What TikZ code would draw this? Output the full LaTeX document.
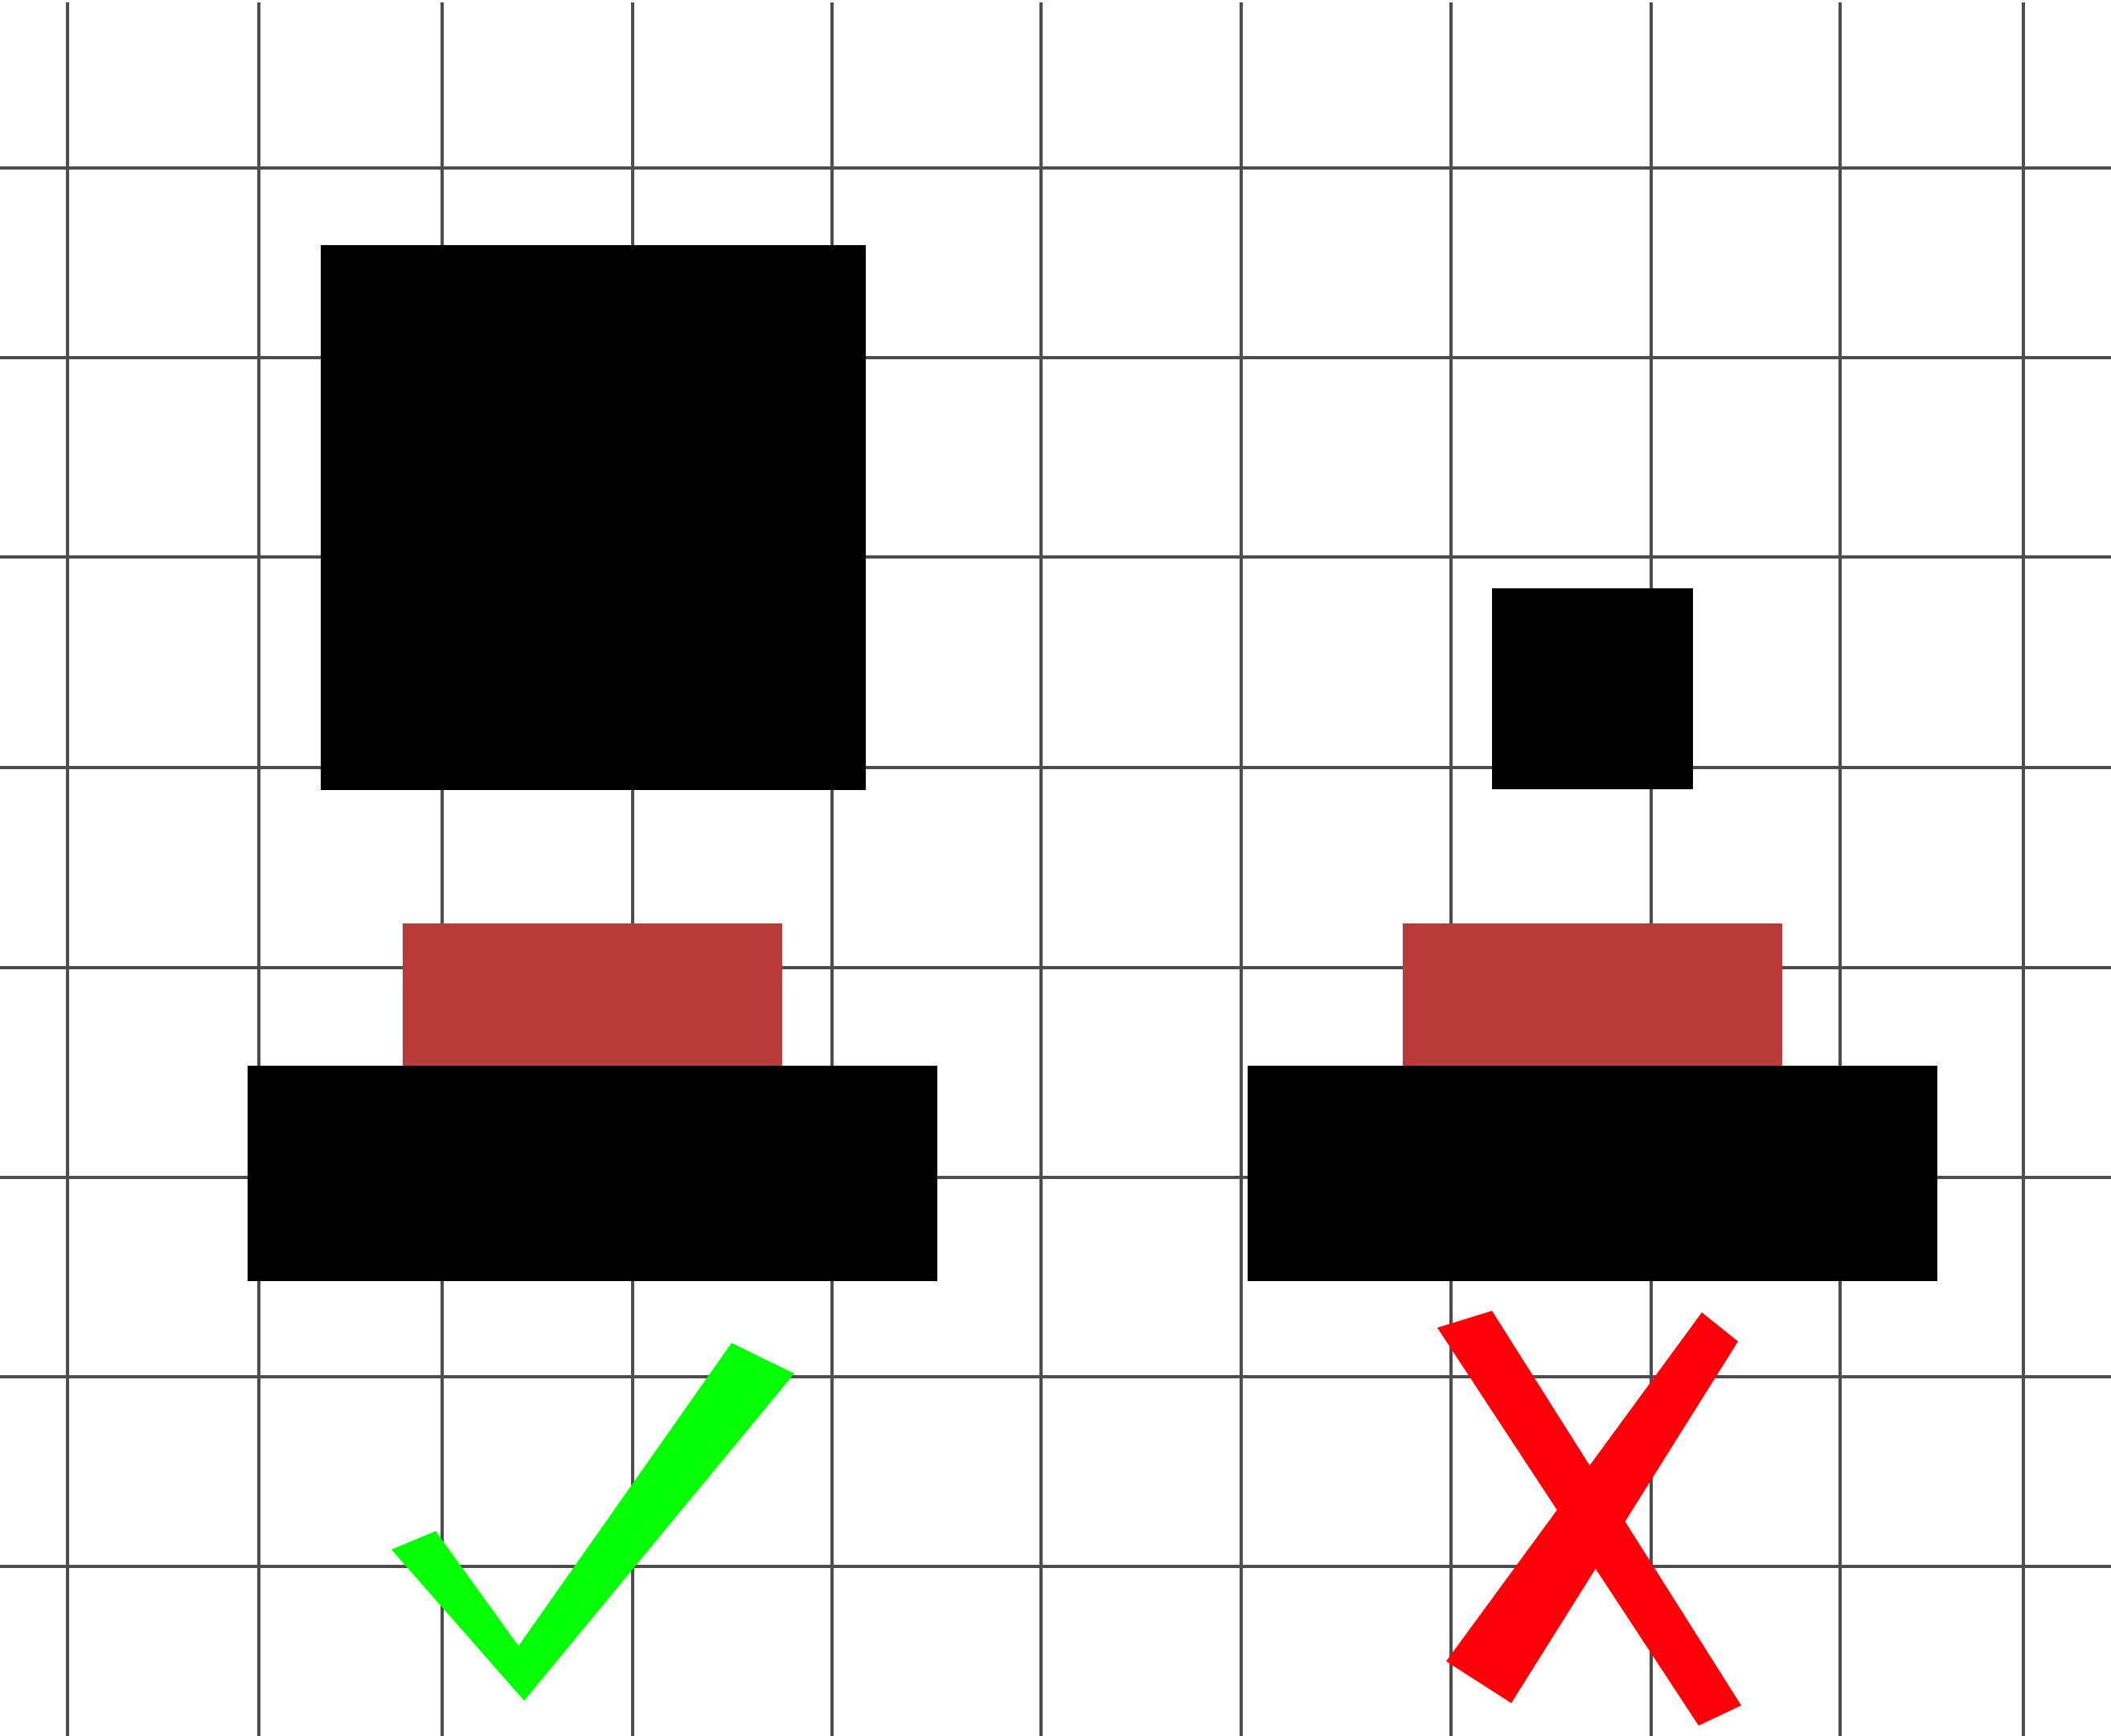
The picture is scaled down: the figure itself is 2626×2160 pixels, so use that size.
\documentclass[tikz,border=0pt]{standalone}
\definecolor{gridgray}{HTML}{4D4D4D}
\definecolor{padred}{HTML}{B93A3A}
\definecolor{okgreen}{HTML}{06FF06}
\definecolor{badred}{HTML}{FF0008}
\begin{document}
\begin{tikzpicture}
            [
                x = 0.01cm, y = -0.01cm,
                gridline/.style = {draw=gridgray, line width=1pt},
                block/.style    = {fill=black},
                pad/.style      = {fill=padred},
                goodmark/.style = {fill=okgreen},
                badmark/.style  = {fill=badred}
            ]
            \useasboundingbox (0,0) rectangle (2626,2160);
            % grid
            \foreach \gx in {84,322,550,787,1035,1295,1544,1805,2054,2289,2517}
                \draw [gridline] (\gx,3) -- (\gx,2160);
            \foreach \gy in {209,445,693,955,1204,1465,1713,1949}
                \draw [gridline] (0,\gy) -- (2626,\gy);
            % left: large part above pad
            \fill [block] (399,305) rectangle (1077,983);
            \fill [pad] (501,1149) rectangle (973,1326);
            \fill [block] (308,1326) rectangle (1166,1594);
            % right: small part above pad
            \fill [block] (1856,732) rectangle (2106,982);
            \fill [pad] (1745,1149) rectangle (2217,1326);
            \fill [block] (1552,1326) rectangle (2410,1594);
            % marks
            \fill [goodmark] (910,1671) -- (988,1709) -- (652,2116)
                -- (487,1928) -- (542,1905) -- (645,2048) -- cycle;
            \fill [badmark] (1788,1652) -- (1856,1631) -- (2166,2122)
                -- (2113,2147) -- cycle;
            \fill [badmark] (2117,1633) -- (2162,1669) -- (1880,2119)
                -- (1799,2067) -- cycle;
        \end{tikzpicture}
\end{document}
